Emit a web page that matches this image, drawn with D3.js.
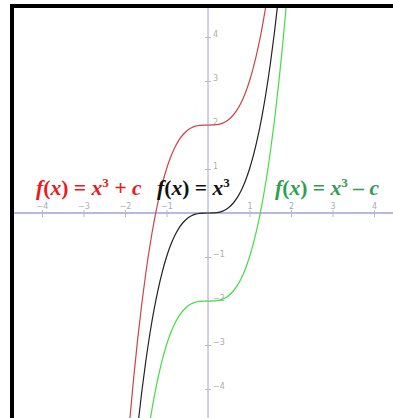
<!DOCTYPE html>
<html>
<head>
<meta charset="utf-8">
<script src="https://cdn.jsdelivr.net/npm/d3@7"></script>
<style>
  body { margin: 0; background: #fff; }
  svg { display: block; }
</style>
</head>
<body>
<div id="chart"></div>
<script>
// sample points of the base curve f(x) = x^3
const baseX = [-1.9, -1.8, -1.7, -1.6, -1.5, -1.4, -1.3, -1.2, -1.1, -1.0, -0.9, -0.8, -0.7, -0.6, -0.5, -0.4, -0.3, -0.2, -0.1, 0,
               0.1, 0.2, 0.3, 0.4, 0.5, 0.6, 0.7, 0.8, 0.9, 1.0, 1.1, 1.2, 1.3, 1.4, 1.5, 1.6, 1.7, 1.8, 1.9]
const baseY = [-6.859, -5.832, -4.913, -4.096, -3.375, -2.744, -2.197, -1.728, -1.331, -1, -0.729, -0.512, -0.343, -0.216, -0.125, -0.064, -0.027, -0.008, -0.001, 0,
               0.001, 0.008, 0.027, 0.064, 0.125, 0.216, 0.343, 0.512, 0.729, 1, 1.331, 1.728, 2.197, 2.744, 3.375, 4.096, 4.913, 5.832, 6.859]

// vertical shifts c for the three curves
const shifts = [2, 0, -2]
const curveColors = ["#cc4444", "#222222", "#44dd44"]

const xTicks = [-4, -3, -2, -1, 1, 2, 3, 4]
const yTicks = [-4, -3, -2, -1, 1, 2, 3, 4]

const width = 393, height = 418

const svg = d3.select("#chart")
  .append("svg")
  .attr("width", width)
  .attr("height", height)

const x = d3.scaleLinear().domain([-4, 4]).range([42, 374])
const y = d3.scaleLinear().domain([-4, 4]).range([389, 37])

// plot area (inside the black frame)
const frameLeft = 14, frameTop = 8

svg.append("clipPath")
  .attr("id", "plot")
  .append("rect")
  .attr("x", frameLeft).attr("y", frameTop)
  .attr("width", width - frameLeft).attr("height", height - frameTop)

const axisColor = "#a0a0d8"

// x axis line
svg.append("line")
  .attr("x1", frameLeft).attr("x2", width)
  .attr("y1", y(0)).attr("y2", y(0))
  .attr("stroke", axisColor)
  .attr("stroke-width", 1.5)

// y axis line
svg.append("line")
  .attr("x1", x(0)).attr("x2", x(0))
  .attr("y1", frameTop).attr("y2", height)
  .attr("stroke", axisColor)
  .attr("stroke-width", 1)

const xAxis = svg.append("g")
  .attr("transform", `translate(0,${y(0)})`)
  .call(d3.axisBottom(x).tickValues(xTicks).tickSize(4).tickFormat(d3.format("d")))
xAxis.select(".domain").remove()
xAxis.selectAll(".tick line").attr("y1", -3).attr("stroke", "#bbbbbb")
xAxis.selectAll(".tick text")
  .attr("y", -4).attr("dy", 0)
  .attr("fill", "#adadad")
  .attr("font-family", "DejaVu Sans, sans-serif")
  .attr("font-size", 8)

const yAxis = svg.append("g")
  .attr("transform", `translate(${x(0)},0)`)
  .call(d3.axisRight(y).tickValues(yTicks).tickSize(3).tickFormat(d3.format("d")))
yAxis.select(".domain").remove()
yAxis.selectAll(".tick line").attr("x1", -3).attr("stroke", "#bbbbbb")
yAxis.selectAll(".tick text")
  .attr("x", 5).attr("dy", "-0.1em")
  .attr("fill", "#adadad")
  .attr("font-family", "DejaVu Sans, sans-serif")
  .attr("font-size", 8)

// curves
const line = d3.line()
  .x(d => x(d[0]))
  .y(d => y(d[1]))
  .curve(d3.curveMonotoneX)

svg.append("g")
  .attr("clip-path", "url(#plot)")
  .attr("fill", "none")
  .selectAll("path")
  .data(shifts)
  .join("path")
  .attr("stroke", (d, i) => curveColors[i])
  .attr("stroke-width", 1.2)
  .attr("d", c => line(baseX.map((v, i) => [v, baseY[i] + c])))

// formula labels
const labels = [
  { x: 36, color: "#e8191c", rest: " + c" },
  { x: 157, color: "#111111", rest: "" },
  { x: 275, color: "#2e9e52", rest: " \u2013 c" }
]

const txt = svg.append("g")
  .attr("font-family", "Liberation Serif, Times New Roman, serif")
  .attr("font-weight", "bold")
  .attr("font-size", 21.6)
  .selectAll("text")
  .data(labels)
  .join("text")
  .attr("x", d => d.x)
  .attr("y", 195)
  .attr("fill", d => d.color)

txt.append("tspan").attr("font-style", "italic").text("f")
txt.append("tspan").text("(")
txt.append("tspan").attr("font-style", "italic").text("x")
txt.append("tspan").text(") = ")
txt.append("tspan").attr("font-style", "italic").text("x")
txt.append("tspan").attr("font-size", 13).attr("dy", -8).text("3")
txt.append("tspan").attr("dy", 8).attr("font-style", "italic").text(d => d.rest)

// black frame on the left and top
svg.append("path")
  .attr("d", `M${frameLeft - 2},${height} V${frameTop - 2} H${width}`)
  .attr("fill", "none")
  .attr("stroke", "#000")
  .attr("stroke-width", 4)
</script>
</body>
</html>
